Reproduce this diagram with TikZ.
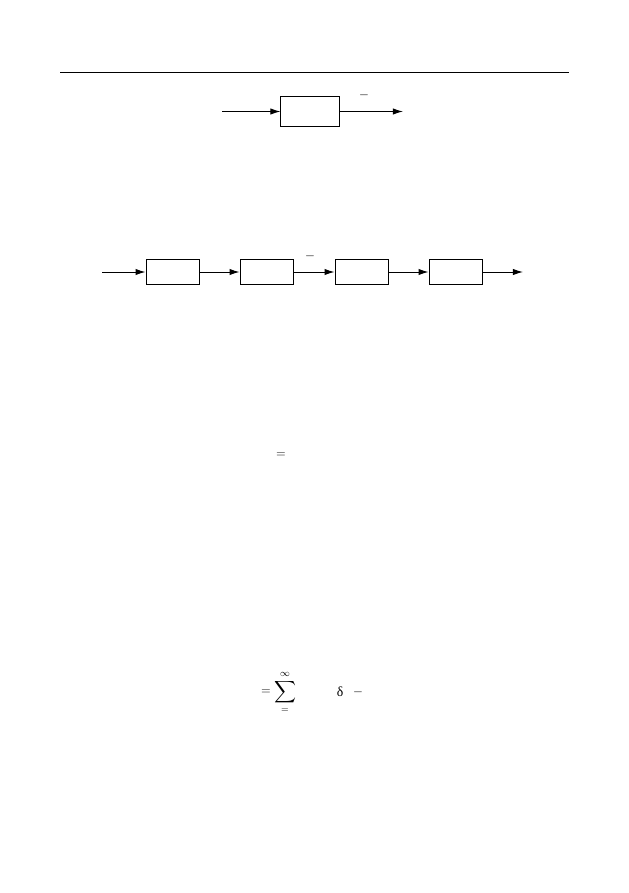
\documentclass[tikz,border=0pt]{standalone}
\usepackage{exscale}
\usepackage{fontspec}
\setmainfont{Liberation Serif}
\usetikzlibrary{arrows.meta}
\begin{document}
\begin{tikzpicture}[x=0.9459pt,y=-0.9459pt,
  blk/.style={draw,line width=0.9pt,minimum width=55pt,minimum height=27.5pt,inner sep=0pt},
  blk2/.style={draw,line width=0.9pt,minimum width=51pt,minimum height=24.5pt,inner sep=0pt},
  arr/.style={line width=0.9pt,-{Latex[length=9.5pt,width=6pt]}},
  lbl/.style={inner sep=0pt,font=\fontsize{13}{15}\selectfont}]
\useasboundingbox (0,0) rectangle (629,893);
% header rule
\coordinate (r1) at (60,72);
\coordinate (r2) at (569,72);
\draw[line width=0.9pt] (r1) -- (r2);
% top diagram
\node[blk] (b0) at (310,111.5) {};
\coordinate (in0) at (222,111.5);
\coordinate (out0) at (403,111.5);
\draw[arr] (in0) -- (b0.west);
\draw[arr] (b0.east) -- (out0);
\node[lbl] (m0) at (364,95) {$-$};
% chain
\node[blk2] (c1) at (173,272) {};
\node[blk2] (c2) at (267,272) {};
\node[blk2] (c3) at (362,272) {};
\node[blk2] (c4) at (456,272) {};
\coordinate (in1) at (102,272);
\coordinate (out1) at (523,272);
\draw[arr] (in1) -- (c1.west);
\draw[arr] (c1.east) -- (c2.west);
\draw[arr] (c2.east) -- (c3.west);
\draw[arr] (c3.east) -- (c4.west);
\draw[arr] (c4.east) -- (out1);
\node[lbl] (m1) at (310,256) {$-$};
% equation 1
\node[lbl] (eq1) at (281,455) {$=$};
% equation 2
\node[lbl] (eq2) at (266,692) {$=$};
\node[inner sep=0pt,font=\fontsize{14}{16}\selectfont] (sum) at (285,692) {$\displaystyle\sum$};
\node[inner sep=0pt,font=\fontsize{9}{10}\selectfont] (inf) at (285,674) {$\infty$};
\node[inner sep=0pt,font=\fontsize{9}{10}\selectfont] (eqs) at (285,711) {$=$};
\node[lbl] (delta) at (340,692) {δ};
\node[lbl] (m2) at (358,692) {$-$};
\end{tikzpicture}
\end{document}
